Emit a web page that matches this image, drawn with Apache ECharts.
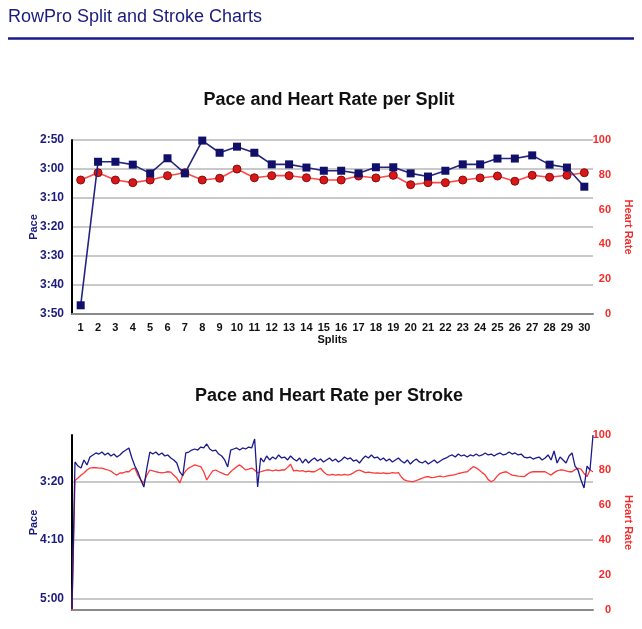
<!DOCTYPE html>
<html>
<head>
<meta charset="utf-8">
<script src="https://cdn.jsdelivr.net/npm/echarts@6/dist/echarts.min.js"></script>
<style>
html,body{margin:0;padding:0;background:#fff;}
#c{width:642px;height:629px;}
</style>
</head>
<body>
<div id="c"></div>
<script>
// ---- Data ----
const splits = ['1','2','3','4','5','6','7','8','9','10','11','12','13','14','15','16','17','18','19','20','21','22','23','24','25','26','27','28','29','30'];
// split pace in seconds per 500m
const splitPace = [227, 177.5, 177.5, 178.5, 181.5, 176.3, 181.5, 170.2, 174.4, 172.3, 174.4, 178.4, 178.4, 179.5, 180.6, 180.6, 181.5, 179.4, 179.4, 181.5, 182.6, 180.6, 178.4, 178.4, 176.4, 176.4, 175.3, 178.5, 179.5, 186.1];
const splitHR = [77, 81.2, 77, 75.5, 77, 79.5, 81.2, 77, 78, 83.3, 78.3, 79.5, 79.5, 78.3, 77, 77, 79.3, 78.2, 79.7, 74.3, 75.5, 75.5, 77, 78.2, 79.3, 76.3, 79.7, 78.6, 79.7, 81.2];
const splitPaceTicks = [170, 180, 190, 200, 210, 220, 230];
const hrTicks = [0, 20, 40, 60, 80, 100];

const strokePace = [309, 183.1, 186.6, 188.3, 181.4, 185.7, 178.9, 177.1, 175.4, 176.3,
  174.6, 177.1, 175.4, 178.0, 176.3, 178.9, 177.1, 174.6, 172.9, 171.1,
  179.7, 186.6, 191.7, 198.6, 204.6, 188.3, 174.6, 176.3, 174.6, 177.1,
  175.4, 178.0, 177.1, 179.7, 181.4, 184.0, 191.7, 195.1, 175.4, 174.6,
  172.9, 172.0, 172.9, 170.3, 171.1, 167.7, 172.0, 173.7, 172.9, 176.3,
  178.0, 181.4, 187.4, 172.9, 172.0, 171.1, 172.9, 171.1, 172.0, 170.3,
  171.1, 163.4, 204.6, 179.7, 183.1, 178.0, 181.4, 178.9, 180.6, 177.1,
  179.7, 178.9, 181.4, 178.0, 180.6, 182.3, 179.7, 184.0, 180.6, 184.0,
  181.4, 179.7, 182.3, 180.6, 183.1, 181.4, 179.7, 182.3, 180.6, 183.1,
  181.4, 178.9, 180.6, 179.7, 182.3, 181.4, 184.0, 180.6, 178.0, 179.7,
  177.1, 179.7, 178.9, 181.4, 179.7, 182.3, 180.6, 183.1, 181.4, 179.7,
  182.3, 184.0, 181.4, 184.9, 182.3, 180.6, 183.1, 184.0, 182.3, 184.9,
  183.1, 181.4, 184.0, 182.3, 180.6, 179.7, 178.0, 177.1, 178.9, 176.3,
  178.0, 177.1, 178.9, 177.1, 178.0, 176.3, 178.0, 177.1, 175.4, 177.1,
  176.3, 178.0, 176.3, 175.4, 177.1, 176.3, 174.6, 176.3, 175.4, 177.1,
  176.3, 178.9, 179.7, 178.9, 180.6, 179.7, 178.9, 181.4, 179.7, 177.1,
  181.4, 173.7, 184.0, 178.9, 181.4, 184.0, 178.0, 175.4, 186.6, 190.0,
  198.6, 205.4, 186.6, 190.0, 160.0];
const strokeHR = [0, 74, 75.4, 77, 78.3, 80, 81.1, 81.3, 81.3, 81.1,
  81.1, 80.5, 80, 79.4, 78, 77.1, 78.3, 78.3, 79.0, 79.0,
  80.5, 81.1, 77, 74.3, 72.6, 77.1, 80, 79.5, 79.0, 78.6,
  78.3, 78.6, 79.0, 78.8, 77, 75.4, 72.6, 77.1, 79.5, 81.1,
  82, 82.9, 82.3, 81.9, 79.0, 74.3, 77, 79.5, 80, 79,
  78.3, 77.5, 77.1, 79.0, 80.5, 81.9, 82.9, 81.5, 80, 80.5,
  81.1, 80, 78.3, 79.0, 79.5, 80, 80, 79.5, 80, 79.6,
  80, 80, 81.5, 83.3, 79.5, 79.8, 79.3, 79.6, 79.0, 79.3,
  79.0, 79.0, 80, 81, 79, 77.5, 77.1, 77.5, 77.1, 77.4,
  77.1, 77.5, 77.1, 77.5, 78.4, 79.5, 80, 79.2, 78.5, 78.8,
  78.5, 78.2, 78.4, 78.1, 78.3, 78.0, 78.1, 78.5, 78.2, 78.5,
  76, 74.3, 73.8, 73.5, 73.3, 74.0, 74.7, 75.3, 76, 76.2,
  75.6, 75.8, 76.2, 76.5, 76.0, 76.5, 76.8, 77.1, 77.4, 78.0,
  78.4, 78.8, 79.0, 80.5, 81.9, 81.2, 80, 78.5, 77.1, 74.5,
  73.3, 74.3, 76.5, 78.1, 78.6, 79.0, 78.0, 77.1, 76.8, 76.5,
  76.4, 76.2, 77.5, 78.6, 79.0, 79.0, 79.0, 79.0, 79.0, 78.0,
  77.1, 78.5, 79.5, 80, 80, 79.5, 79.0, 79.0, 80.2, 81.0,
  80.5, 78.0, 76.2, 80, 79.0];
const strokePaceTicks = [200, 250, 300];
const strokeIdx = strokePace.map((_, i) => String(i + 1));

// ---- Styling ----
const FONT = 'Liberation Sans, Arial, sans-serif';
const NAVY = '#1b1b7e';
const RED = '#f42a2a';
const GRID = '#c9c9c9';
function fmtPace(v) {
  const m = Math.floor(v / 60);
  const s = Math.round(v - m * 60);
  return m + ':' + (s < 10 ? '0' : '') + s;
}
const leftLabel = { color: NAVY, fontWeight: 'bold', fontSize: 12, fontFamily: FONT, margin: 8, formatter: fmtPace };
const rightLabel = { color: RED, fontWeight: 'bold', fontSize: 11, fontFamily: FONT, margin: 18, align: 'right' };
const nameStyleL = { color: NAVY, fontWeight: 'bold', fontSize: 11, fontFamily: FONT };
const nameStyleR = { color: RED, fontWeight: 'bold', fontSize: 11, fontFamily: FONT };

const chart = echarts.init(document.getElementById('c'), null, { renderer: 'canvas' });
chart.setOption({
  animation: false,
  backgroundColor: '#fff',
  title: [
    { text: 'RowPro Split and Stroke Charts', left: 8, top: 8, padding: 0,
      textStyle: { color: NAVY, fontSize: 18, fontWeight: 'normal', fontFamily: FONT } },
    { text: 'Pace and Heart Rate per Split', left: 329, top: 91, padding: 0, textAlign: 'center',
      textStyle: { color: '#111', fontSize: 18, fontWeight: 'bold', fontFamily: FONT } },
    { text: 'Pace and Heart Rate per Stroke', left: 329, top: 387, padding: 0, textAlign: 'center',
      textStyle: { color: '#111', fontSize: 18, fontWeight: 'bold', fontFamily: FONT } }
  ],
  graphic: [
    { type: 'line', shape: { x1: 8, y1: 38.5, x2: 634, y2: 38.5 }, style: { stroke: '#1a1a8c', lineWidth: 2.5 } }
  ],
  grid: [
    { left: 72, right: 49, top: 140, height: 174, outerBoundsMode: 'none', containLabel: false },
    { left: 72, right: 49, top: 435, height: 175, outerBoundsMode: 'none', containLabel: false }
  ],
  xAxis: [
    { type: 'category', gridIndex: 0, data: splits, boundaryGap: true, position: 'bottom',
      name: 'Splits', nameLocation: 'middle', nameGap: 20, nameMoveOverlap: false,
      nameTextStyle: { color: '#111', fontWeight: 'bold', fontSize: 11, fontFamily: FONT },
      axisLine: { onZero: false, lineStyle: { color: '#8a8a8a', width: 2 } },
      axisTick: { show: false },
      axisLabel: { color: '#111', fontWeight: 'bold', fontSize: 11, margin: 8, interval: 0, fontFamily: FONT } },
    { type: 'category', gridIndex: 1, data: strokeIdx, boundaryGap: false, position: 'bottom',
      axisLine: { onZero: false, lineStyle: { color: '#8a8a8a', width: 2 } },
      axisTick: { show: false },
      axisLabel: { show: false } }
  ],
  yAxis: [
    { type: 'value', gridIndex: 0, inverse: true, min: 170, max: 230, interval: 10,
      name: 'Pace', nameLocation: 'middle', nameGap: 33, nameMoveOverlap: false, nameTextStyle: nameStyleL,
      axisLine: { show: true, lineStyle: { color: '#000', width: 2 } },
      axisTick: { show: false },
      axisLabel: leftLabel,
      splitLine: { show: true, lineStyle: { color: GRID, width: 2 } } },
    { type: 'value', gridIndex: 0, position: 'right', min: 0, max: 100, interval: 20,
      name: 'Heart Rate', nameLocation: 'middle', nameGap: 30, nameRotate: -90, nameMoveOverlap: false, nameTextStyle: nameStyleR,
      axisLine: { show: false }, axisTick: { show: false },
      axisLabel: rightLabel, splitLine: { show: false } },
    { type: 'value', gridIndex: 1, inverse: true, min: 160, max: 310,
      name: 'Pace', nameLocation: 'middle', nameGap: 33, nameMoveOverlap: false, nameTextStyle: nameStyleL,
      axisLine: { show: true, lineStyle: { color: '#000', width: 2 } },
      axisTick: { show: false, customValues: strokePaceTicks },
      axisLabel: Object.assign({}, leftLabel, { customValues: strokePaceTicks }),
      splitLine: { show: true, lineStyle: { color: GRID, width: 2 } } },
    { type: 'value', gridIndex: 1, position: 'right', min: 0, max: 100, interval: 20,
      name: 'Heart Rate', nameLocation: 'middle', nameGap: 30, nameRotate: -90, nameMoveOverlap: false, nameTextStyle: nameStyleR,
      axisLine: { show: false }, axisTick: { show: false },
      axisLabel: rightLabel, splitLine: { show: false } }
  ],
  series: [
    { type: 'line', xAxisIndex: 0, yAxisIndex: 1, data: splitHR, z: 3,
      symbol: 'circle', symbolSize: 8,
      lineStyle: { color: '#ff4a4a', width: 1.6 },
      itemStyle: { color: '#d81818', borderColor: '#8a0a0a', borderWidth: 1 } },
    { type: 'line', xAxisIndex: 0, yAxisIndex: 0, data: splitPace, z: 4,
      symbol: 'rect', symbolSize: 8,
      lineStyle: { color: '#24247e', width: 1.6 },
      itemStyle: { color: '#10106a', borderColor: '#10106a', borderWidth: 0 } },
    { type: 'line', xAxisIndex: 1, yAxisIndex: 3, data: strokeHR, z: 3,
      showSymbol: false, symbol: 'none',
      lineStyle: { color: '#ff3838', width: 1.3 } },
    { type: 'line', xAxisIndex: 1, yAxisIndex: 2, data: strokePace, z: 4,
      showSymbol: false, symbol: 'none',
      lineStyle: { color: '#1a1a8c', width: 1.3 } }
  ]
});
</script>
</body>
</html>
